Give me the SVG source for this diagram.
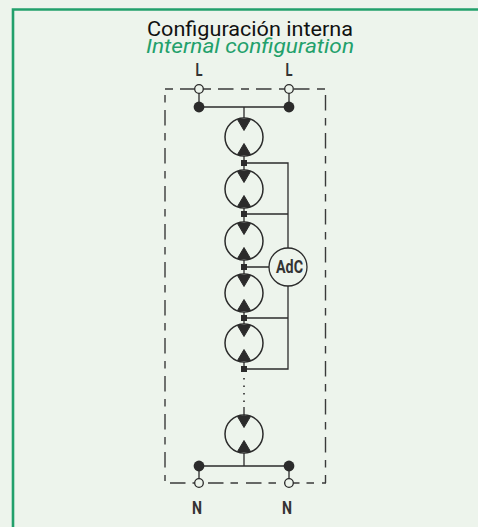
<svg xmlns="http://www.w3.org/2000/svg" width="478" height="527" viewBox="0 0 478 527">
<style>
.t{font-family:"Roboto","Liberation Sans",sans-serif;font-size:20px}
.lab{font-family:"Roboto","Liberation Sans",sans-serif;font-size:17.500px;font-weight:700;fill:#333;text-anchor:middle}
.w{fill:none;stroke:#2b2b2b;stroke-width:1.300}
.d{fill:none;stroke:#3a3a3a;stroke-width:1.400}
.c{fill:none;stroke:#2b2b2b;stroke-width:1.500}
.f{fill:#2b2b2b}
.o{fill:#edf4ec;stroke:#2b2b2b;stroke-width:1.300}
</style>
<defs>
<g id="m"><circle class="c" r="19"/><path class="f" d="M-6.500-17.500H6.500L0-6.500ZM-6.500 17.500H6.500L0 6.500Z" stroke="#2b2b2b" stroke-linejoin="round"/></g>
</defs>
<rect width="478" height="527" fill="#edf4ec"/>
<path d="M13 527V9.500H478" fill="none" stroke="#22a06b" stroke-width="2.600"/>
<text class="t" x="147" y="36" textLength="206" lengthAdjust="spacingAndGlyphs" fill="#111">Configuración interna</text>
<text class="t" x="146" y="53" textLength="208" lengthAdjust="spacingAndGlyphs" font-style="italic" fill="#22a06b">Internal configuration</text>
<g id="frame">
<path class="d" stroke-dasharray="8 7 15.500 7.500" d="M165 89H325"/>
<path class="d" stroke-dasharray="7.500 7.500 15.500 7.500" d="M165 95V481"/>
<path class="d" stroke-dasharray="15.500 7.500 7.500 7.500" d="M325.500 95V483"/>
<path class="d" stroke-dasharray="15.500 7 7.500 8" d="M170 483H326"/>
</g>
<g id="connectors">
<path class="w" d="M199 89V107M289 89V107M199 107H289M244 107V118M199 466V483M289 466V483M199 466H289M244 407V416M244 453V466M244 156V170M244 208V222M244 260V274M244 312V324M244 362V371M244 163H288V369H244M244 214H288M244 267H269M244 318H288"/>
<path d="M244 378V402" fill="none" stroke="#2b2b2b" stroke-width="1.600" stroke-dasharray="1.600 5.900"/>
</g>
<g id="terminal-l1"><circle class="o" cx="199" cy="89" r="4.300"/><circle class="f" cx="199" cy="107" r="5.400"/></g>
<g id="terminal-l2"><circle class="o" cx="289" cy="89" r="4.300"/><circle class="f" cx="289" cy="107" r="5.400"/></g>
<g id="terminal-n1"><circle class="f" cx="199" cy="466" r="5.400"/><circle class="o" cx="199" cy="483" r="4.300"/></g>
<g id="terminal-n2"><circle class="f" cx="289" cy="466" r="5.400"/><circle class="o" cx="289" cy="483" r="4.300"/></g>
<g id="junctions" class="f"><rect x="241" y="160" width="6" height="6"/><rect x="241" y="211" width="6" height="6"/><rect x="241" y="264" width="6" height="6"/><rect x="241" y="315" width="6" height="6"/><rect x="241" y="366" width="6" height="6"/></g>
<use id="module-1" href="#m" x="244" y="137"/>
<use id="module-2" href="#m" x="244" y="189"/>
<use id="module-3" href="#m" x="244" y="241"/>
<use id="module-4" href="#m" x="244" y="293"/>
<use id="module-5" href="#m" x="244" y="343"/>
<use id="module-6" href="#m" x="244" y="434"/>
<g id="adc"><circle class="o" cx="288" cy="267" r="19" stroke-width="1.500"/><text class="lab" x="289.500" y="273" textLength="27" lengthAdjust="spacingAndGlyphs">AdC</text></g>
<g id="labels">
<text class="lab" x="199" y="76" textLength="7" lengthAdjust="spacingAndGlyphs">L</text><text class="lab" x="289" y="76" textLength="7" lengthAdjust="spacingAndGlyphs">L</text>
<text class="lab" x="197" y="514" textLength="10" lengthAdjust="spacingAndGlyphs">N</text><text class="lab" x="287" y="514" textLength="10" lengthAdjust="spacingAndGlyphs">N</text>
</g>
</svg>
